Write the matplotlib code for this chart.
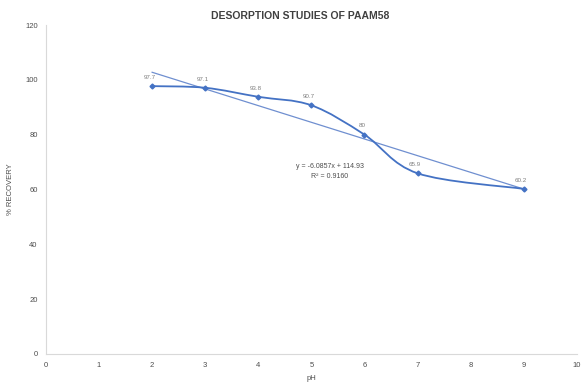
import numpy as np
import matplotlib
matplotlib.use("Agg")
import matplotlib.pyplot as plt
from matplotlib.path import Path
from matplotlib.patches import PathPatch

# Desorption data
ph = [2, 3, 4, 5, 6, 7, 9]
recovery = [97.7, 97.1, 93.8, 90.7, 80.0, 65.9, 60.2]
x_ticks = list(range(0, 11))
y_ticks = list(range(0, 121, 20))

plt.rcParams['font.family'] = ['Liberation Sans Narrow', 'Liberation Sans', 'DejaVu Sans']
TEXT = '#4D4D4D'
LINE = '#4472C4'

fig = plt.figure(figsize=(5.82, 3.91), dpi=100)
ax = fig.add_axes([0.079, 0.095, 0.912, 0.841])

x = np.array(ph, dtype=float)
y = np.array(recovery, dtype=float)

# Smoothed series path (cubic Bezier segments through the points)
verts = [(x[0], y[0])]
codes = [Path.MOVETO]
n = len(x)
for i in range(n - 1):
    p0 = np.array([x[max(i - 1, 0)], y[max(i - 1, 0)]])
    p1 = np.array([x[i], y[i]])
    p2 = np.array([x[i + 1], y[i + 1]])
    p3 = np.array([x[min(i + 2, n - 1)], y[min(i + 2, n - 1)]])
    c1 = p1 + (p2 - p0) / 6.0
    c2 = p2 - (p3 - p1) / 6.0
    verts += [tuple(c1), tuple(c2), tuple(p2)]
    codes += [Path.CURVE4] * 3
ax.add_patch(PathPatch(Path(verts, codes), facecolor='none', edgecolor=LINE, lw=1.3, zorder=3))
ax.plot(x, y, linestyle='none', marker='D', ms=2.5, color=LINE, zorder=4)

# Linear trendline
slope, intercept = np.polyfit(x, y, 1)
fit = slope * x + intercept
r2 = 1 - np.sum((y - fit) ** 2) / np.sum((y - y.mean()) ** 2)
xt = np.array([x.min(), x.max()])
ax.plot(xt, slope * xt + intercept, color='#6F8FD0', lw=0.9, zorder=2)

sign = '+' if intercept >= 0 else '-'
ax.text(5.35, 68.3, f"y = {slope:.4f}x {sign} {abs(intercept):.2f}", fontsize=5, color=TEXT,
        ha='center', va='center')
ax.text(5.35, 64.6, f"R² = {r2:.4f}", fontsize=5, color=TEXT, ha='center', va='center')

# Data labels
for xi, yi in zip(x, y):
    ax.text(xi - 0.05, yi + 3.2, f"{yi:g}", fontsize=4.5, color='#7F7F7F', ha='center', va='center')

ax.set_xlim(0, 10)
ax.set_ylim(0, 120)
ax.set_xticks(x_ticks)
ax.set_yticks(y_ticks)
ax.tick_params(axis='both', length=0, labelsize=5.5, colors=TEXT, pad=6)
for s in ['top', 'right']:
    ax.spines[s].set_visible(False)
for s in ['left', 'bottom']:
    ax.spines[s].set_color('#D9D9D9')
    ax.spines[s].set_linewidth(0.8)

fig.text(0.515, 0.958, "DESORPTION STUDIES OF PAAM58", fontsize=7.5, color='#404040',
         fontweight='semibold', ha='center', va='center')
ax.set_xlabel("pH", fontsize=5.5, color=TEXT, labelpad=4)
ax.set_ylabel("% RECOVERY", fontsize=5.5, color=TEXT, labelpad=8)

fig.savefig("out.png", dpi=100)
